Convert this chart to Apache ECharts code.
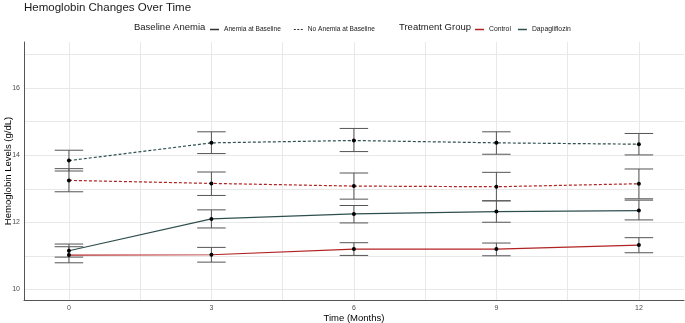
<!DOCTYPE html>
<html>
<head>
<meta charset="utf-8">
<title>Hemoglobin Changes Over Time</title>
<script src="https://cdn.jsdelivr.net/npm/echarts@6/dist/echarts.min.js"></script>
<style>
  body { margin: 0; background: #fff; }
  #main { width: 685px; height: 323px; }
</style>
</head>
<body>
<div id="main"></div>
<script>
// values (mean and error bar ends)
var months = [0, 3, 6, 9, 12];

// control group
var control_anemia    = [11.02, 11.03, 11.20, 11.20, 11.32];
var control_anemia_lo = [10.79, 10.81, 11.01, 11.00, 11.09];
var control_anemia_hi = [11.27, 11.25, 11.39, 11.38, 11.54];
var control_noanemia    = [13.25, 13.16, 13.08, 13.06, 13.15];
var control_noanemia_lo = [12.91, 12.80, 12.69, 12.64, 12.70];
var control_noanemia_hi = [13.60, 13.50, 13.47, 13.49, 13.59];

// dapagliflozin group
var dapa_anemia    = [11.15, 12.10, 12.25, 12.32, 12.35];
var dapa_anemia_lo = [10.96, 11.83, 11.98, 12.00, 12.07];
var dapa_anemia_hi = [11.35, 12.37, 12.50, 12.64, 12.66];
var dapa_noanemia    = [13.84, 14.37, 14.44, 14.37, 14.33];
var dapa_noanemia_lo = [13.53, 14.05, 14.11, 14.03, 14.01];
var dapa_noanemia_hi = [14.15, 14.70, 14.80, 14.70, 14.65];

// axis ticks / grid positions
var x_ticks = [0, 3, 6, 9, 12];
var x_grid  = [0, 1.5, 3, 4.5, 6, 7.5, 9, 10.5, 12];
var y_ticks = [10, 12, 14, 16];
var y_grid  = [10, 11, 12, 13, 14, 15, 16, 17];

var font = 'Liberation Sans, Arial, sans-serif';
var red = '#B22222';
var teal = '#2F4F4F';
var dotted = [3, 2];

// legend key shapes (thin bars); dotted key = three short dashes
var key_solid = 'rect';
var key_dotted = 'path://M0,0h2v1h-2zM3.5,0h2v1h-2zM7,0h2v1h-2z';

function zip(xs, ys) {
    return xs.map(function (x, i) { return [x, ys[i]]; });
}

// line + black points for one group
function line_series(name, values, color, dashed) {
    return {
        name: name,
        type: 'line',
        data: zip(months, values),
        symbol: 'circle',
        symbolSize: 4,
        itemStyle: { color: '#000' },
        lineStyle: { color: color, width: 1.2, type: dashed ? dotted : 'solid' },
        z: 3,
        silent: true,
        animation: false
    };
}

// error bars as rows [x, lo, hi]
var err_rows = [];
[[control_anemia_lo, control_anemia_hi],
 [control_noanemia_lo, control_noanemia_hi],
 [dapa_anemia_lo, dapa_anemia_hi],
 [dapa_noanemia_lo, dapa_noanemia_hi]].forEach(function (p) {
    months.forEach(function (m, i) { err_rows.push([m, p[0][i], p[1][i]]); });
});

function render_errbar(params, api) {
    var x = api.value(0);
    var lo = api.coord([x, api.value(1)]);
    var hi = api.coord([x, api.value(2)]);
    var hw = api.size([0.3, 0])[0];   // cap half width, 0.6 months total
    var st = { stroke: '#555', lineWidth: 1 };
    return {
        type: 'group',
        children: [
            { type: 'line', shape: { x1: lo[0], y1: lo[1], x2: hi[0], y2: hi[1] }, style: st },
            { type: 'line', shape: { x1: lo[0] - hw, y1: lo[1], x2: lo[0] + hw, y2: lo[1] }, style: st },
            { type: 'line', shape: { x1: hi[0] - hw, y1: hi[1], x2: hi[0] + hw, y2: hi[1] }, style: st }
        ]
    };
}

// legend-only series (no data)
function key_series(name, color) {
    return {
        name: name, type: 'line', data: [], symbol: 'none',
        lineStyle: { color: color },
        itemStyle: { color: color }
    };
}

var myChart = echarts.init(document.getElementById('main'));

var option = {
    animation: false,
    backgroundColor: '#fff',
    textStyle: { fontFamily: font },
    title: {
        text: 'Hemoglobin Changes Over Time',
        left: 24,
        top: 2,
        padding: 0,
        textStyle: { fontSize: 11.5, fontWeight: 'normal', color: '#1a1a1a', fontFamily: font }
    },
    graphic: [
        { type: 'text', left: 134, top: 22, style: { text: 'Baseline Anemia', fontSize: 9.5, fontFamily: font, fill: '#1a1a1a' } },
        { type: 'text', left: 399, top: 22, style: { text: 'Treatment Group', fontSize: 9.5, fontFamily: font, fill: '#1a1a1a' } }
    ],
    legend: [
        {
            data: [
                { name: 'Anemia at Baseline', icon: key_solid },
                { name: 'No Anemia at Baseline', icon: key_dotted }
            ],
            left: 210, top: 26, padding: 0,
            itemWidth: 9, itemHeight: 1.5, itemGap: 13,
            selectedMode: false,
            textStyle: { fontSize: 6.6, color: '#1a1a1a', fontFamily: font }
        },
        {
            data: [
                { name: 'Control', icon: key_solid },
                { name: 'Dapagliflozin', icon: key_solid }
            ],
            left: 475, top: 26, padding: 0,
            itemWidth: 9, itemHeight: 1.5, itemGap: 7,
            selectedMode: false,
            textStyle: { fontSize: 6.8, color: '#1a1a1a', fontFamily: font }
        }
    ],
    grid: { left: 24, right: 1, top: 42, bottom: 23, containLabel: false, outerBoundsMode: 'none' },
    xAxis: {
        type: 'value',
        min: -0.946, max: 12.95,
        name: 'Time (Months)',
        nameLocation: 'middle',
        nameGap: 13,
        nameMoveOverlap: false,
        nameTextStyle: { fontSize: 9.5, color: '#000', fontFamily: font },
        axisLine: { show: true, onZero: false, lineStyle: { color: '#555', width: 1 } },
        axisTick: { show: false, customValues: x_grid },
        axisLabel: { customValues: x_ticks, fontSize: 7, color: '#4d4d4d', margin: 5, fontFamily: font },
        splitLine: { show: true, lineStyle: { color: '#E8E8E8', width: 1 } }
    },
    yAxis: {
        type: 'value',
        min: 9.68, max: 17.38,
        name: 'Hemoglobin Levels (g/dL)',
        nameLocation: 'middle',
        nameGap: 11,
        nameMoveOverlap: false,
        nameTextStyle: { fontSize: 9.5, color: '#000', fontFamily: font },
        axisLine: { show: true, onZero: false, lineStyle: { color: '#555', width: 1 } },
        axisTick: { show: false, customValues: y_grid },
        axisLabel: { customValues: y_ticks, fontSize: 7, color: '#4d4d4d', margin: 4, fontFamily: font },
        splitLine: { show: true, lineStyle: { color: '#E8E8E8', width: 1 } }
    },
    series: [
        key_series('Anemia at Baseline', '#333'),
        key_series('No Anemia at Baseline', '#333'),
        key_series('Control', red),
        key_series('Dapagliflozin', teal),
        line_series('Control / Anemia', control_anemia, red, false),
        line_series('Control / No Anemia', control_noanemia, red, true),
        line_series('Dapagliflozin / Anemia', dapa_anemia, teal, false),
        line_series('Dapagliflozin / No Anemia', dapa_noanemia, teal, true),
        {
            name: 'errors',
            type: 'custom',
            renderItem: render_errbar,
            data: err_rows,
            encode: { x: 0, y: [1, 2] },
            z: 2,
            silent: true
        }
    ]
};

myChart.setOption(option);

window.addEventListener('resize', function () {
    myChart.resize();
});
</script>
</body>
</html>
